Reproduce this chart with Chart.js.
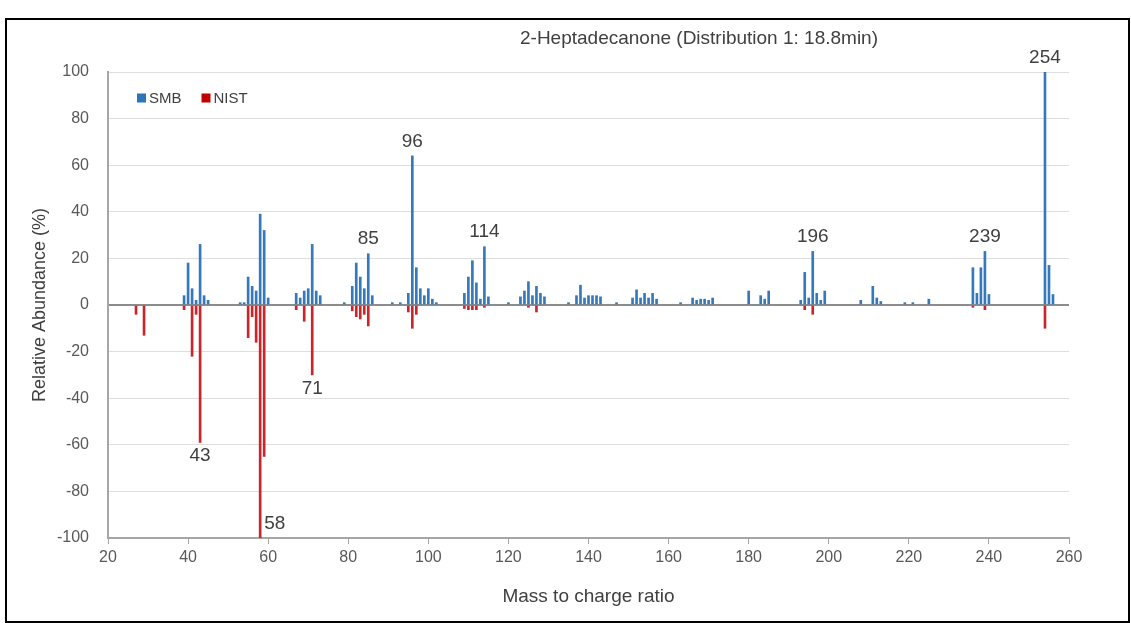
<!DOCTYPE html>
<html>
<head>
<meta charset="utf-8">
<title>2-Heptadecanone</title>
<script src="https://cdn.jsdelivr.net/npm/chart.js@4.4.1/dist/chart.umd.min.js"></script>
<style>
  html, body { margin: 0; padding: 0; background: #fff; }
  #wrap { position: relative; width: 1131px; height: 623px; }
  #frame { position: absolute; left: 5px; top: 18px; width: 1121px; height: 601px; border: 2px solid #000; pointer-events: none; }
</style>
</head>
<body>
<div id="wrap">
  <canvas id="chart" width="1131" height="623"></canvas>
  <div id="frame"></div>
</div>
<script>
// --- data ---
const chartTitle = '2-Heptadecanone (Distribution 1: 18.8min)';
const xTitle = 'Mass to charge ratio';
const yTitle = 'Relative Abundance (%)';
const seriesNames = ['SMB', 'NIST'];

// SMB (measured) spectrum, positive side
const smbMz = [39, 40, 41, 42, 43, 44, 45,
  53, 54, 55, 56, 57, 58, 59, 60,
  67, 68, 69, 70, 71, 72, 73,
  79, 81, 82, 83, 84, 85, 86,
  91, 93, 95, 96, 97, 98, 99, 100, 101, 102,
  109, 110, 111, 112, 113, 114, 115,
  120, 123, 124, 125, 126, 127, 128, 129,
  135, 137, 138, 139, 140, 141, 142, 143,
  147, 151, 152, 153, 154, 155, 156, 157,
  163, 166, 167, 168, 169, 170, 171,
  180, 183, 184, 185,
  193, 194, 195, 196, 197, 198, 199,
  208, 211, 212, 213, 219, 221, 225,
  236, 237, 238, 239, 240,
  254, 255, 256];
const smbAbundance = [4, 18, 7, 2, 26, 4, 2,
  1, 1, 12, 8, 6, 39, 32, 3,
  5, 3, 6, 7, 26, 6, 4,
  1, 8, 18, 12, 7, 22, 4,
  1, 1, 5, 64, 16, 7, 4, 7, 2.5, 1,
  5, 12, 19, 9.5, 2.5, 25, 3.5,
  1, 3.5, 6, 10, 4, 8, 5, 3.5,
  1, 4, 8.5, 3, 4, 4, 4, 3.5,
  1, 3, 6.5, 3, 5, 3, 5, 2.5,
  1, 3, 2, 2.5, 2.5, 2, 3,
  6, 4, 2.5, 6,
  2, 14, 3, 23, 5, 2, 6,
  2, 8, 3, 1.5, 1, 1, 2.5,
  16, 5, 16, 23, 4.5,
  100, 17, 4.5];

// NIST library spectrum, drawn downward
const nistMz = [27, 29, 39, 41, 42, 43, 55, 56, 57, 58, 59, 67, 69, 71,
  81, 82, 83, 84, 85, 95, 96, 97, 109, 110, 111, 112, 114, 125, 127,
  194, 196, 236, 239, 254];
const nistAbundance = [-4, -13, -2, -22, -4, -59, -14, -5, -16, -100, -65, -2, -7, -30,
  -2.5, -5, -6, -4, -9, -3, -10, -4, -1.5, -2, -2, -2, -1, -1, -3,
  -2, -4, -1, -2, -10];

// labelled peaks and where the label sits
const peakLabelMz = [43, 58, 71, 85, 96, 114, 196, 239, 254];
const peakLabelSide = ['below', 'right', 'below', 'above', 'above', 'above', 'above', 'above', 'above'];

const xMin = 20, xMax = 260, xStep = 20;
const yMin = -100, yMax = 100, yStep = 20;

// --- styles ---
const BLUE = '#2e75b6';
const RED = '#c00000';
const FONT = '"Liberation Sans", Arial, sans-serif';
Chart.defaults.font.family = FONT;

// title, legend (inside plot) and peak numbers
const overlay = {
  id: 'overlay',
  afterDatasetsDraw(chart) {
    const { ctx, chartArea, scales: { x, y } } = chart;
    ctx.save();

    ctx.fillStyle = '#404040';
    ctx.font = '19px ' + FONT;
    ctx.textAlign = 'center';
    ctx.textBaseline = 'middle';
    ctx.fillText(chartTitle, chartArea.left + 591, 39);

    // legend
    ctx.font = '15px ' + FONT;
    ctx.textAlign = 'left';
    let lx = chartArea.left + 29;
    const ly = chartArea.top + 26;
    [BLUE, RED].forEach((c, i) => {
      ctx.fillStyle = c;
      ctx.fillRect(lx, ly - 4.5, 9, 9);
      ctx.fillStyle = '#404040';
      ctx.fillText(seriesNames[i], lx + 12, ly + 1);
      lx += 12 + ctx.measureText(seriesNames[i]).width + 20;
    });

    // peak labels
    ctx.font = '19px ' + FONT;
    ctx.fillStyle = '#404040';
    peakLabelMz.forEach((m, i) => {
      const side = peakLabelSide[i];
      const px = x.getPixelForValue(m);
      if (side === 'above') {
        const v = smbAbundance[smbMz.indexOf(m)];
        ctx.textAlign = 'center';
        ctx.textBaseline = 'bottom';
        ctx.fillText(String(m), px, y.getPixelForValue(v) - 5);
      } else if (side === 'below') {
        const v = nistAbundance[nistMz.indexOf(m)];
        ctx.textAlign = 'center';
        ctx.textBaseline = 'top';
        ctx.fillText(String(m), px, y.getPixelForValue(v) + 4);
      } else {
        const v = nistAbundance[nistMz.indexOf(m)];
        ctx.textAlign = 'left';
        ctx.textBaseline = 'bottom';
        ctx.fillText(String(m), px + 4, y.getPixelForValue(v) - 5);
      }
    });
    ctx.restore();
  }
};

new Chart(document.getElementById('chart'), {
  type: 'bar',
  data: {
    datasets: [
      {
        label: seriesNames[0],
        data: smbMz.map((m, i) => ({ x: m, y: smbAbundance[i] })),
        backgroundColor: '#3479bb',
        barThickness: 2,
        grouped: false
      },
      {
        label: seriesNames[1],
        data: nistMz.map((m, i) => ({ x: m, y: nistAbundance[i] })),
        backgroundColor: '#c9252b',
        barThickness: 2,
        grouped: false
      }
    ]
  },
  options: {
    responsive: false,
    animation: false,
    layout: { padding: { top: 72, right: 62, bottom: 0, left: 0 } },
    plugins: {
      legend: { display: false },
      tooltip: { enabled: false },
      title: { display: false }
    },
    scales: {
      x: {
        type: 'linear',
        min: xMin,
        max: xMax,
        offset: false,
        ticks: { stepSize: xStep, color: '#595959', font: { size: 16 }, padding: 4, maxRotation: 0 },
        grid: { drawOnChartArea: false, tickLength: 6, tickColor: '#a6a6a6', offset: false },
        border: { color: '#a6a6a6', width: 2 },
        title: { display: true, text: xTitle, color: '#404040', font: { size: 19 }, padding: { top: 0, bottom: 15 } },
        afterFit(s) { s.height = 85; }
      },
      y: {
        min: yMin,
        max: yMax,
        ticks: { stepSize: yStep, color: '#595959', font: { size: 16 }, padding: 19 },
        grid: {
          drawTicks: false,
          color: c => (c.tick && c.tick.value === 0 ? '#8c8c8c' : '#dedede'),
          lineWidth: c => (c.tick && c.tick.value === 0 ? 2 : 1)
        },
        border: { color: '#a6a6a6', width: 2 },
        title: { display: true, text: yTitle, color: '#404040', font: { size: 18 }, padding: { top: 29, bottom: 0 } },
        afterFit(s) { s.width = 108; }
      }
    }
  },
  plugins: [overlay]
});
</script>
</body>
</html>
